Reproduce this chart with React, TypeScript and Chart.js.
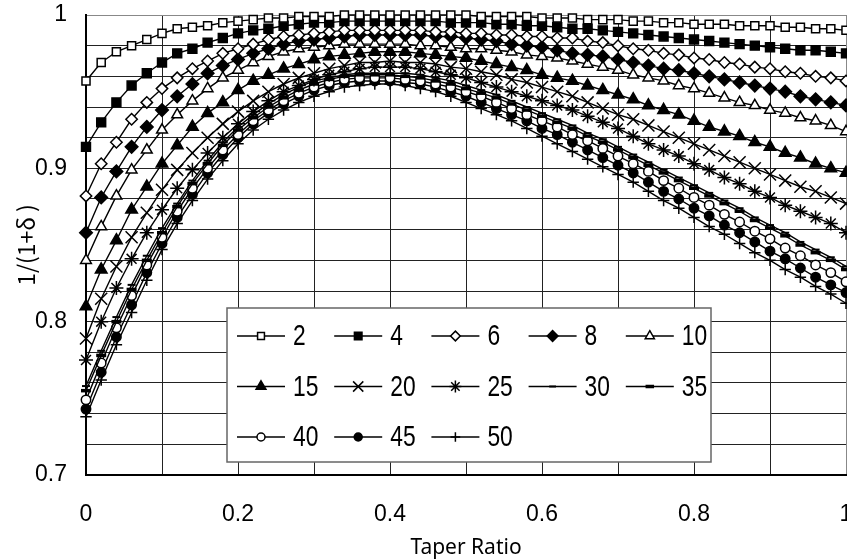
import React, { useEffect, useRef } from 'react';
import { Chart, registerables } from 'chart.js';
import { drawPoint } from 'chart.js/helpers';

Chart.register(...registerables);

// Taper ratio (x)
const taperRatio = [
  0, 0.02, 0.04, 0.06, 0.08, 0.1, 0.12, 0.14, 0.16, 0.18, 0.2, 0.22, 0.24, 0.26, 0.28, 0.3, 0.32,
  0.34, 0.36, 0.38, 0.4, 0.42, 0.44, 0.46, 0.48, 0.5, 0.52, 0.54, 0.56, 0.58, 0.6, 0.62, 0.64,
  0.66, 0.68, 0.7, 0.72, 0.74, 0.76, 0.78, 0.8, 0.82, 0.84, 0.86, 0.88, 0.9, 0.92, 0.94, 0.96,
  0.98, 1,
];

const seriesLabels = ['2', '4', '6', '8', '10', '15', '20', '25', '30', '35', '40', '45', '50'];

const s2 = [0.957, 0.969, 0.976, 0.980, 0.984, 0.988, 0.991, 0.992, 0.993, 0.995, 0.996, 0.997, 0.998, 0.998, 0.999, 0.999, 0.999, 1.000, 1.000, 1.000, 1.000, 1.000, 1.000, 1.000, 1.000, 1.000, 0.999, 0.999, 0.999, 0.999, 0.998, 0.998, 0.998, 0.997, 0.997, 0.997, 0.996, 0.996, 0.995, 0.995, 0.994, 0.994, 0.994, 0.993, 0.993, 0.993, 0.992, 0.992, 0.991, 0.991, 0.990];
const s4 = [0.914, 0.930, 0.943, 0.954, 0.962, 0.969, 0.975, 0.978, 0.982, 0.985, 0.988, 0.990, 0.991, 0.993, 0.994, 0.995, 0.995, 0.996, 0.996, 0.996, 0.996, 0.996, 0.996, 0.996, 0.995, 0.995, 0.995, 0.994, 0.994, 0.993, 0.993, 0.992, 0.991, 0.991, 0.990, 0.989, 0.988, 0.987, 0.986, 0.985, 0.984, 0.983, 0.982, 0.981, 0.980, 0.979, 0.978, 0.977, 0.977, 0.976, 0.975];
const s6 = [0.882, 0.903, 0.917, 0.932, 0.943, 0.952, 0.959, 0.965, 0.970, 0.975, 0.978, 0.981, 0.984, 0.986, 0.987, 0.988, 0.989, 0.990, 0.990, 0.990, 0.990, 0.990, 0.990, 0.989, 0.989, 0.988, 0.988, 0.987, 0.987, 0.986, 0.986, 0.985, 0.985, 0.983, 0.982, 0.980, 0.978, 0.977, 0.975, 0.974, 0.972, 0.971, 0.969, 0.968, 0.966, 0.965, 0.963, 0.962, 0.960, 0.959, 0.957];
const s8 = [0.858, 0.881, 0.898, 0.914, 0.927, 0.938, 0.947, 0.955, 0.962, 0.967, 0.971, 0.975, 0.978, 0.981, 0.983, 0.984, 0.985, 0.986, 0.987, 0.987, 0.987, 0.987, 0.987, 0.986, 0.986, 0.985, 0.984, 0.983, 0.981, 0.980, 0.979, 0.977, 0.975, 0.974, 0.973, 0.971, 0.969, 0.967, 0.965, 0.964, 0.962, 0.960, 0.958, 0.956, 0.954, 0.952, 0.950, 0.947, 0.945, 0.943, 0.941];
const s10 = [0.840, 0.862, 0.882, 0.899, 0.912, 0.925, 0.935, 0.944, 0.952, 0.959, 0.964, 0.969, 0.973, 0.976, 0.978, 0.979, 0.980, 0.981, 0.981, 0.981, 0.981, 0.981, 0.980, 0.980, 0.979, 0.978, 0.978, 0.977, 0.976, 0.974, 0.973, 0.972, 0.970, 0.968, 0.966, 0.964, 0.961, 0.959, 0.957, 0.954, 0.952, 0.949, 0.946, 0.943, 0.941, 0.938, 0.936, 0.933, 0.931, 0.928, 0.924];
const s15 = [0.810, 0.834, 0.853, 0.873, 0.888, 0.903, 0.915, 0.927, 0.936, 0.943, 0.951, 0.957, 0.961, 0.965, 0.968, 0.971, 0.973, 0.974, 0.975, 0.976, 0.976, 0.976, 0.975, 0.974, 0.973, 0.972, 0.970, 0.968, 0.966, 0.964, 0.961, 0.959, 0.957, 0.954, 0.951, 0.948, 0.945, 0.941, 0.938, 0.935, 0.931, 0.927, 0.924, 0.921, 0.917, 0.914, 0.910, 0.907, 0.903, 0.900, 0.897];
const s20 = [0.789, 0.815, 0.836, 0.855, 0.871, 0.886, 0.899, 0.910, 0.920, 0.929, 0.937, 0.944, 0.950, 0.955, 0.959, 0.962, 0.965, 0.967, 0.969, 0.969, 0.970, 0.969, 0.969, 0.968, 0.966, 0.965, 0.963, 0.961, 0.958, 0.956, 0.953, 0.950, 0.947, 0.943, 0.939, 0.935, 0.932, 0.928, 0.924, 0.920, 0.916, 0.912, 0.908, 0.904, 0.900, 0.896, 0.892, 0.888, 0.885, 0.881, 0.877];
const s25 = [0.775, 0.800, 0.822, 0.841, 0.858, 0.873, 0.887, 0.899, 0.910, 0.920, 0.929, 0.937, 0.944, 0.950, 0.954, 0.958, 0.961, 0.963, 0.965, 0.966, 0.966, 0.966, 0.965, 0.963, 0.961, 0.959, 0.956, 0.953, 0.950, 0.947, 0.944, 0.941, 0.938, 0.934, 0.930, 0.926, 0.921, 0.916, 0.912, 0.908, 0.903, 0.899, 0.894, 0.890, 0.885, 0.881, 0.876, 0.872, 0.868, 0.864, 0.858];
const s30 = [0.758, 0.781, 0.803, 0.824, 0.843, 0.861, 0.877, 0.892, 0.905, 0.917, 0.927, 0.935, 0.942, 0.948, 0.953, 0.957, 0.959, 0.961, 0.962, 0.962, 0.962, 0.962, 0.961, 0.959, 0.957, 0.954, 0.951, 0.948, 0.944, 0.940, 0.936, 0.932, 0.928, 0.923, 0.919, 0.914, 0.909, 0.904, 0.899, 0.894, 0.889, 0.884, 0.879, 0.874, 0.868, 0.863, 0.858, 0.852, 0.847, 0.842, 0.836];
const s35 = [0.755, 0.778, 0.800, 0.821, 0.840, 0.858, 0.875, 0.890, 0.903, 0.915, 0.925, 0.933, 0.940, 0.946, 0.951, 0.955, 0.958, 0.960, 0.961, 0.961, 0.961, 0.960, 0.959, 0.957, 0.955, 0.952, 0.949, 0.946, 0.942, 0.938, 0.934, 0.930, 0.926, 0.921, 0.917, 0.912, 0.907, 0.902, 0.897, 0.892, 0.887, 0.882, 0.877, 0.872, 0.866, 0.861, 0.856, 0.850, 0.845, 0.840, 0.834];
const s40 = [0.749, 0.773, 0.796, 0.817, 0.837, 0.855, 0.872, 0.887, 0.900, 0.912, 0.922, 0.931, 0.938, 0.944, 0.949, 0.953, 0.956, 0.958, 0.959, 0.959, 0.959, 0.958, 0.957, 0.955, 0.953, 0.950, 0.947, 0.943, 0.939, 0.935, 0.931, 0.927, 0.922, 0.918, 0.913, 0.908, 0.903, 0.898, 0.892, 0.887, 0.881, 0.876, 0.870, 0.865, 0.859, 0.854, 0.848, 0.843, 0.837, 0.832, 0.826];
const s45 = [0.743, 0.767, 0.790, 0.811, 0.832, 0.851, 0.868, 0.883, 0.897, 0.909, 0.920, 0.929, 0.936, 0.942, 0.947, 0.951, 0.954, 0.956, 0.957, 0.957, 0.957, 0.956, 0.955, 0.953, 0.950, 0.947, 0.943, 0.939, 0.935, 0.931, 0.926, 0.922, 0.917, 0.912, 0.907, 0.902, 0.897, 0.891, 0.885, 0.880, 0.874, 0.869, 0.863, 0.858, 0.852, 0.846, 0.841, 0.835, 0.829, 0.824, 0.819];
const s50 = [0.738, 0.762, 0.785, 0.806, 0.827, 0.847, 0.864, 0.879, 0.893, 0.905, 0.916, 0.925, 0.932, 0.938, 0.943, 0.947, 0.950, 0.953, 0.954, 0.955, 0.955, 0.954, 0.952, 0.950, 0.947, 0.943, 0.939, 0.935, 0.931, 0.926, 0.921, 0.916, 0.911, 0.906, 0.901, 0.896, 0.891, 0.885, 0.879, 0.874, 0.868, 0.862, 0.857, 0.851, 0.845, 0.840, 0.834, 0.829, 0.823, 0.818, 0.812];

const seriesValues = [s2, s4, s6, s8, s10, s15, s20, s25, s30, s35, s40, s45, s50];

// marker styles (presentation only)
const markerStyles: { style: any; r: number; fill: string; bw: number }[] = [
  { style: 'rect', r: 5.7, fill: '#fff', bw: 1.5 },
  { style: 'rect', r: 6.3, fill: '#000', bw: 1.5 },
  { style: 'rectRot', r: 5.7, fill: '#fff', bw: 1.5 },
  { style: 'rectRot', r: 6.3, fill: '#000', bw: 1.5 },
  { style: 'triangle', r: 6.2, fill: '#fff', bw: 1.5 },
  { style: 'triangle', r: 6.7, fill: '#000', bw: 1.5 },
  { style: 'crossRot', r: 8.5, fill: '#000', bw: 1.5 },
  { style: 'star', r: 7, fill: '#000', bw: 1.5 },
  { style: 'line', r: 4, fill: '#000', bw: 2 },
  { style: 'line', r: 5, fill: '#000', bw: 3.5 },
  { style: 'circle', r: 4.7, fill: '#fff', bw: 1.5 },
  { style: 'circle', r: 4.7, fill: '#000', bw: 1.5 },
  { style: 'cross', r: 5.7, fill: '#000', bw: 1.5 },
];

const legendPlugin = {
  id: 'boxLegend',
  afterDraw(chart: any) {
    const ctx: CanvasRenderingContext2D = chart.ctx;
    const ca = chart.chartArea;
    const bx = ca.left + 141;
    const by = ca.top + 293;
    const bw = 484;
    const bh = 154;
    ctx.save();
    ctx.fillStyle = '#fff';
    ctx.fillRect(bx, by, bw, bh);
    ctx.strokeStyle = '#666';
    ctx.lineWidth = 1.5;
    ctx.strokeRect(bx, by, bw, bh);
    seriesLabels.forEach((label, i) => {
      const col = i % 5;
      const row = Math.floor(i / 5);
      const lx = bx + 10 + col * 97.2;
      const ly = by + 28 + row * 50.5;
      ctx.strokeStyle = '#000';
      ctx.lineWidth = 1.4;
      ctx.beginPath();
      ctx.moveTo(lx, ly);
      ctx.lineTo(lx + 48, ly);
      ctx.stroke();
      const m = markerStyles[i];
      ctx.fillStyle = m.fill;
      ctx.strokeStyle = '#000';
      ctx.lineWidth = m.bw;
      drawPoint(ctx, { pointStyle: m.style, radius: m.r * 0.85, borderWidth: m.bw, rotation: 0 } as any, lx + 24, ly);
      ctx.save();
      ctx.fillStyle = '#000';
      ctx.font = '30px "Liberation Sans", Arial, sans-serif';
      ctx.textAlign = 'left';
      ctx.textBaseline = 'middle';
      ctx.translate(lx + 56, ly + 1);
      ctx.scale(0.76, 1);
      ctx.fillText(label, 0, 0);
      ctx.restore();
    });
    ctx.restore();
  },
};

export default function App() {
  const ref = useRef<HTMLCanvasElement | null>(null);

  useEffect(() => {
    if (!ref.current) return;
    const datasets = seriesLabels.map((label, i) => {
      const m = markerStyles[i];
      return {
        label,
        data: seriesValues[i].map((y, k) => ({ x: taperRatio[k], y })),
        borderColor: '#000',
        borderWidth: 1.4,
        pointStyle: m.style,
        pointRadius: m.r,
        pointBackgroundColor: m.fill,
        pointBorderColor: '#000',
        pointBorderWidth: m.bw,
        tension: 0,
        clip: false as any,
      };
    });

    const chart = new Chart(ref.current, {
      type: 'line',
      data: { datasets: datasets as any },
      plugins: [legendPlugin],
      options: {
        animation: false,
        responsive: false,
        events: [],
        layout: { autoPadding: false, padding: { top: 15, right: 1, left: 0, bottom: 0 } },
        plugins: { legend: { display: false }, tooltip: { enabled: false } },
        scales: {
          x: {
            type: 'linear',
            min: 0,
            max: 1,
            afterFit: (s: any) => {
              s.height = 84;
              s.paddingLeft = 0;
              s.paddingRight = 0;
            },
            ticks: {
              stepSize: 0.1,
              autoSkip: false,
              maxRotation: 0,
              padding: 26,
              color: '#000',
              font: { family: '"Liberation Sans", Arial, sans-serif', size: 23 },
              callback: (v: any) => {
                const t = Math.round(Number(v) * 10);
                if (t % 2 !== 0) return '';
                if (t === 0) return '0';
                if (t === 10) return '1';
                return (t / 10).toString();
              },
            },
            grid: {
              drawTicks: false,
              lineWidth: 1,
              color: (c: any) => (c.tick && Math.round(c.tick.value * 10) === 10 ? '#888' : '#222'),
            },
            border: { display: true, color: '#000', width: 2 },
            title: {
              display: true,
              text: 'Taper Ratio',
              color: '#000',
              font: { family: '"Noto Sans", sans-serif', size: 21, lineHeight: 1 },
              padding: { top: 0, bottom: 0 },
            },
          },
          y: {
            type: 'linear',
            min: 0.7,
            max: 1,
            afterFit: (s: any) => {
              s.width = 86;
              s.paddingTop = 0;
              s.paddingBottom = 0;
            },
            ticks: {
              stepSize: 0.02,
              autoSkip: false,
              padding: 19,
              color: '#000',
              font: { family: '"Liberation Sans", Arial, sans-serif', size: 23 },
              callback: (v: any) => {
                const h = Math.round(Number(v) * 100);
                if (h % 10 !== 0) return '';
                if (h === 100) return '1';
                return (h / 100).toString();
              },
            },
            grid: {
              drawTicks: false,
              lineWidth: 1,
              color: (c: any) => (c.tick && Math.round(c.tick.value * 100) === 100 ? '#888' : '#222'),
            },
            border: { display: true, color: '#000', width: 2 },
            title: {
              display: true,
              text: '1/(1+δ )',
              color: '#000',
              font: { family: '"Noto Sans CJK JP", sans-serif', size: 23 },
              padding: { top: 12, bottom: 0 },
            },
          },
        },
      } as any,
    });
    return () => chart.destroy();
  }, []);

  return (
    <div style={{ position: 'absolute', left: 0, top: 0, width: 847, height: 559, background: '#fff' }}>
      <canvas ref={ref} width={847} height={559} style={{ display: 'block' }} />
    </div>
  );
}
